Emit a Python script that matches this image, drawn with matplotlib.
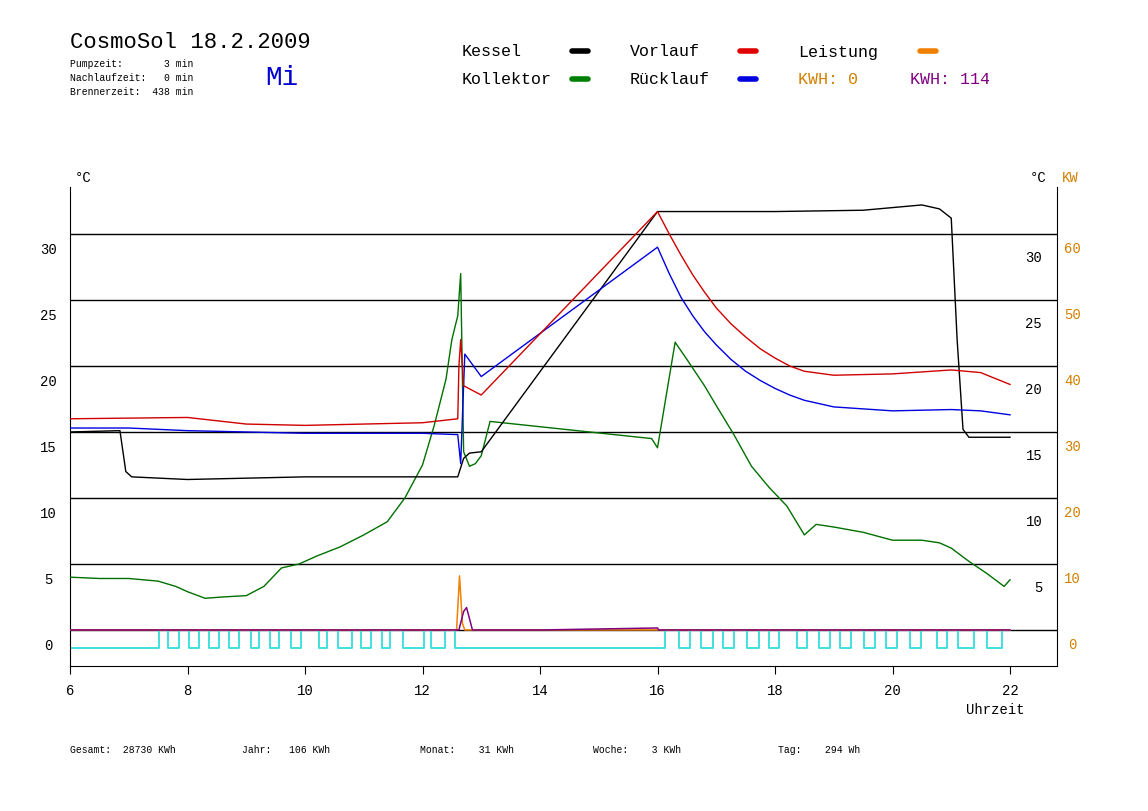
import numpy as np
import matplotlib.pyplot as plt
from matplotlib.lines import Line2D

MONO = 'Liberation Mono'

# Kessel (schwarz)
kessel_t = [6.0, 6.85, 6.95, 7.05, 8.0, 10.0, 12.0, 12.6, 12.7, 12.8, 13.0, 16.0, 18.0, 19.5, 20.0, 20.5, 20.8, 21.0, 21.1, 21.2, 21.3, 22.0]
kessel_v = [15.0, 15.1, 12.0, 11.6, 11.4, 11.6, 11.6, 11.6, 13.0, 13.4, 13.5, 31.7, 31.7, 31.8, 32.0, 32.2, 31.9, 31.2, 22.0, 15.2, 14.6, 14.6]

# Vorlauf (rot)
vor_t = [6.0, 8.0, 9.0, 10.0, 12.0, 12.6, 12.62, 12.65, 12.7, 13.0, 16.0, 16.2, 16.4, 16.6, 16.8, 17.0, 17.25, 17.5, 17.75,
         18.0, 18.25, 18.5, 19.0, 20.0, 21.0, 21.5, 22.0]
vor_v = [16.0, 16.1, 15.6, 15.5, 15.7, 16.0, 20.0, 22.0, 18.5, 17.8, 31.7, 30.0, 28.4, 26.9, 25.6, 24.4, 23.2, 22.2, 21.3,
         20.6, 20.0, 19.6, 19.3, 19.4, 19.7, 19.5, 18.6]

# Ruecklauf (blau)
rueck_t = [6.0, 7.0, 8.0, 10.0, 12.0, 12.6, 12.65, 12.72, 13.0, 16.0, 16.2, 16.4, 16.6, 16.8, 17.0, 17.25, 17.5, 17.75,
           18.0, 18.25, 18.5, 19.0, 20.0, 21.0, 21.5, 22.0]
rueck_v = [15.3, 15.3, 15.1, 14.9, 14.9, 14.8, 12.6, 20.9, 19.2, 29.0, 27.0, 25.2, 23.8, 22.6, 21.6, 20.5, 19.6, 18.9,
           18.3, 17.8, 17.4, 16.9, 16.6, 16.7, 16.6, 16.3]

# Kollektor (gruen)
koll_t = [6.0, 6.5, 7.0, 7.5, 7.8, 8.0, 8.3, 8.6, 9.0, 9.3, 9.6, 9.9, 10.2, 10.6, 11.0, 11.4, 11.7, 12.0, 12.2, 12.4, 12.5, 12.6, 12.65, 12.7, 12.8, 12.9, 13.0, 13.15,
          15.9, 16.0, 16.3, 16.5, 16.8, 17.0, 17.3, 17.6, 17.9, 18.2, 18.5, 18.7, 19.0, 19.5, 20.0, 20.5, 20.8, 21.0, 21.3, 21.6, 21.9, 22.0]
koll_v = [4.0, 3.9, 3.9, 3.7, 3.3, 2.9, 2.4, 2.5, 2.6, 3.3, 4.7, 5.0, 5.6, 6.3, 7.2, 8.2, 10.0, 12.5, 15.5, 19.0, 22.0, 23.8, 27.0, 13.5, 12.4, 12.6, 13.2, 15.8,
          14.5, 13.8, 21.8, 20.5, 18.5, 17.0, 14.8, 12.4, 10.8, 9.4, 7.2, 8.0, 7.8, 7.4, 6.8, 6.8, 6.6, 6.2, 5.2, 4.3, 3.3, 3.8]

# Leistung (orange, KW) und KWH (violett), in °C-Skala (KW / 2)
leist_t = [6.0, 12.58, 12.63, 12.68, 12.72, 16.0, 22.0]
leist_v = [0.0, 0.0, 4.1, 0.5, 0.0, 0.0, 0.0]
kwh_t = [6.0, 12.62, 12.7, 12.75, 12.85, 14.0, 16.0, 16.02, 22.0]
kwh_v = [0.0, 0.0, 1.4, 1.7, 0.0, 0.0, 0.15, 0.0, 0.0]

# Pumpe (cyan) Umschaltzeiten
pumpe_wechsel = [7.52, 7.67, 7.86, 8.02, 8.19, 8.36, 8.54, 8.71, 8.88, 9.08, 9.22, 9.40, 9.56, 9.77,
                 9.93, 10.23, 10.37, 10.56, 10.80, 10.96, 11.12, 11.31, 11.45, 11.66, 12.03, 12.14, 12.39, 12.55,
                 16.12, 16.37, 16.55, 16.74, 16.94, 17.12, 17.31, 17.53, 17.72, 17.90, 18.07, 18.37, 18.55, 18.75,
                 18.94, 19.11, 19.29, 19.51, 19.71, 19.89, 20.07, 20.30, 20.48, 20.75, 20.92, 21.12, 21.38, 21.61, 21.86]

fig = plt.figure(figsize=(11.48, 8.12), dpi=100)
ax = fig.add_axes([70/1148, 1-667/812, 987/1148, 479/812])
ax.set_xlim(6, 22.8)
ax.set_ylim(-2.73, 33.56)

for g in range(0, 35, 5):
    ax.axhline(g, color='black', lw=1, zorder=1)

# Pumpe als Rechteckkurve
pt = [6.0]
pv = [-1.4]
lvl = -1.4
for w in pumpe_wechsel:
    lvl = 0.0 if lvl < -0.5 else -1.4
    pt.append(w)
    pv.append(lvl)
pt.append(22.0)
pv.append(lvl)
ax.plot(pt, pv, color='#40e0e0', lw=1.4, drawstyle='steps-post', zorder=2)

ax.plot(leist_t, leist_v, color='#f08000', lw=1.1, zorder=3)
ax.plot(kwh_t, kwh_v, color='#800080', lw=1.1, zorder=3.5)
ax.plot(koll_t, koll_v, color='#007000', lw=1.0, zorder=4)
ax.plot(kessel_t, kessel_v, color='black', lw=1.0, zorder=4)
ax.plot(rueck_t, rueck_v, color='#0000e0', lw=1.0, zorder=5)
ax.plot(vor_t, vor_v, color='#d00000', lw=1.0, zorder=5)

ax.spines['top'].set_visible(False)
ax.set_yticks([])
ax.set_xticks(range(6, 23, 2))
ax.tick_params(axis='x', direction='out', length=6, labelsize=10, pad=6)
for lab in ax.get_xticklabels():
    lab.set_fontfamily(MONO)

# Achsenbeschriftungen
for g in range(0, 35, 5):
    ax.text(-0.022, g - 0.6, str(g), transform=ax.get_yaxis_transform(), ha='center', va='top',
            fontsize=10, family=MONO)
    if g > 0:
        ax.text(0.985, g - 1.2, str(g), transform=ax.get_yaxis_transform(), ha='right', va='top',
                fontsize=10, family=MONO)
    ax.text(1.016, g - 0.5, str(2 * g), transform=ax.get_yaxis_transform(), ha='center', va='top',
            fontsize=10, family=MONO, color='#d08000')

fig.text(75/1148, 1-178/812, '°C', fontsize=10, family=MONO, va='center')
fig.text(1030/1148, 1-178/812, '°C', fontsize=10, family=MONO, va='center')
fig.text(1062/1148, 1-178/812, 'KW', fontsize=10, family=MONO, va='center', color='#d08000')
fig.text(966/1148, 1-710/812, 'Uhrzeit', fontsize=10, family=MONO, va='center')

# Kopf
fig.text(70/1148, 1-43/812, 'CosmoSol 18.2.2009', fontsize=16, family=MONO, va='center')
fig.text(70/1148, 1-64/812, 'Pumpzeit:       3 min', fontsize=7, family=MONO, va='center')
fig.text(70/1148, 1-78/812, 'Nachlaufzeit:   0 min', fontsize=7, family=MONO, va='center')
fig.text(70/1148, 1-92/812, 'Brennerzeit:  438 min', fontsize=7, family=MONO, va='center')
fig.text(265/1148, 1-78/812, 'Mi', fontsize=20, family=MONO, va='center', color='#0000d0')

leg = [('Kessel', 462, 52, 'black', 580), ('Vorlauf', 630, 52, '#e00000', 748),
       ('Leistung', 798, 52, '#f08000', 928), ('Kollektor', 462, 80, '#008000', 580),
       ('Rücklauf', 630, 80, '#0000e0', 748)]
for name, x, y, c, lx in leg:
    fig.text(x/1148, 1-y/812, name, fontsize=12, family=MONO, va='center')
    fig.add_artist(Line2D([(lx-8)/1148, (lx+8)/1148], [1-y/812, 1-y/812], color=c, lw=4,
                          solid_capstyle='round', transform=fig.transFigure))
fig.text(798/1148, 1-80/812, 'KWH: 0', fontsize=12, family=MONO, va='center', color='#d08000')
fig.text(910/1148, 1-80/812, 'KWH: 114', fontsize=12, family=MONO, va='center', color='#800080')

# Fuss
fuss = [('Gesamt:  28730 KWh', 70), ('Jahr:   106 KWh', 242), ('Monat:    31 KWh', 420),
        ('Woche:    3 KWh', 593), ('Tag:    294 Wh', 778)]
for s, x in fuss:
    fig.text(x/1148, 1-750/812, s, fontsize=7, family=MONO, va='center')

fig.savefig('out.png', dpi=100)
